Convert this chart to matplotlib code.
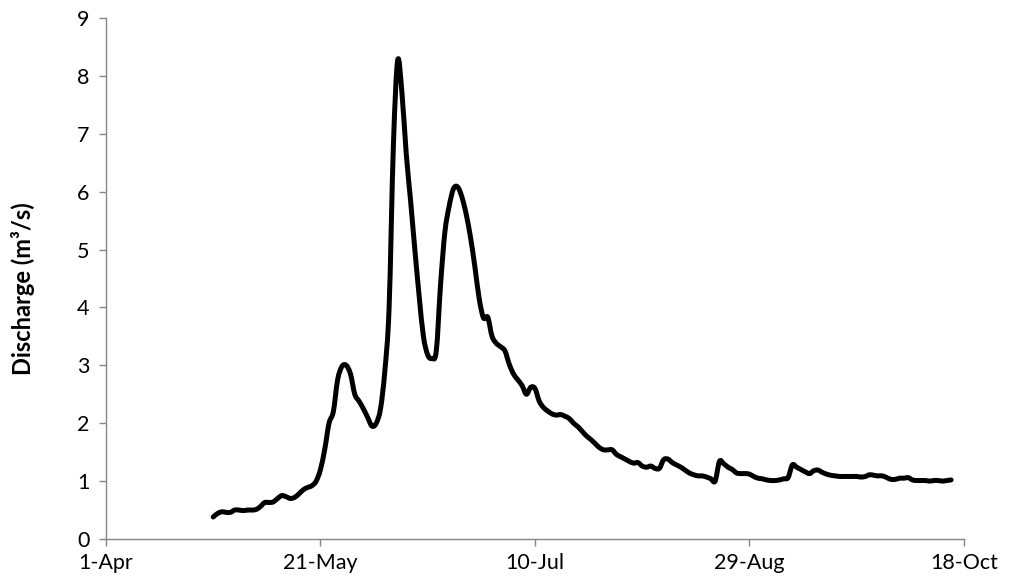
import datetime as dt
import numpy as np
import matplotlib
matplotlib.use("Agg")
import matplotlib.pyplot as plt
import matplotlib.dates as mdates
from matplotlib.path import Path
from matplotlib.patches import PathPatch
from matplotlib.ticker import FuncFormatter

# daily discharge, first value on 26-Apr
start_date = dt.date(2013, 4, 26)
discharge = [
    0.38, 0.44, 0.47, 0.46, 0.46, 0.50, 0.50, 0.49, 0.50, 0.50,
    0.51, 0.56, 0.63, 0.63, 0.64, 0.70, 0.75, 0.73, 0.70, 0.72,
    0.78, 0.85, 0.89, 0.92, 1.00, 1.20, 1.55, 2.00, 2.20, 2.75,
    2.98, 3.00, 2.85, 2.50, 2.38, 2.25, 2.10, 1.95, 2.00, 2.25,
    2.90, 4.00, 6.80, 8.27, 7.70, 6.65, 5.85, 5.00, 4.20, 3.50,
    3.18, 3.12, 3.25, 4.40, 5.30, 5.75, 6.05, 6.08, 5.90, 5.60,
    5.20, 4.70, 4.15, 3.82, 3.83, 3.50, 3.38, 3.32, 3.25, 3.02,
    2.85, 2.75, 2.65, 2.50, 2.62, 2.60, 2.38, 2.27, 2.21, 2.16,
    2.14, 2.15, 2.12, 2.08, 2.00, 1.94, 1.86, 1.78, 1.72, 1.65,
    1.58, 1.54, 1.54, 1.54, 1.46, 1.42, 1.38, 1.34, 1.31, 1.32,
    1.26, 1.24, 1.26, 1.22, 1.22, 1.37, 1.38, 1.32, 1.28, 1.24,
    1.19, 1.14, 1.11, 1.09, 1.09, 1.07, 1.04, 1.00, 1.34, 1.30,
    1.24, 1.20, 1.14, 1.13, 1.13, 1.12, 1.08, 1.05, 1.04, 1.02,
    1.01, 1.01, 1.02, 1.04, 1.06, 1.28, 1.24, 1.20, 1.16, 1.13,
    1.18, 1.19, 1.15, 1.12, 1.10, 1.09, 1.08, 1.08, 1.08, 1.08,
    1.08, 1.07, 1.08, 1.11, 1.10, 1.09, 1.09, 1.06, 1.03, 1.03,
    1.05, 1.05, 1.06, 1.02, 1.01, 1.01, 1.01, 1.00, 1.01, 1.01,
    1.00, 1.01, 1.02,
]
dates = [start_date + dt.timedelta(days=i) for i in range(len(discharge))]

axis_start = dt.date(2013, 4, 1)
tick_dates = [axis_start + dt.timedelta(days=50 * k) for k in range(5)]
y_ticks = list(range(0, 10))


def smooth_path(x, y):
    # excel-like smoothed line: catmull-rom segments as cubic beziers
    p = np.column_stack([x, y])
    p = np.vstack([p[0], p, p[-1]])
    verts = [p[1]]
    codes = [Path.MOVETO]
    for i in range(1, len(p) - 2):
        c1 = p[i] + (p[i + 1] - p[i - 1]) / 6
        c2 = p[i + 1] - (p[i + 2] - p[i]) / 6
        verts += [c1, c2, p[i + 1]]
        codes += [Path.CURVE4] * 3
    return Path(verts, codes)


plt.rcParams['font.family'] = ['Lato', 'DejaVu Sans']

fig = plt.figure(figsize=(10.13, 5.87), dpi=100)
ax = fig.add_axes([0.1046, 0.0818, 0.847, 0.8875])

xnum = mdates.date2num(dates)
ax.add_patch(PathPatch(smooth_path(xnum, discharge), facecolor='none',
                       edgecolor='black', lw=3.6, joinstyle='round',
                       capstyle='round'))

ax.set_xlim(mdates.date2num(tick_dates[0]), mdates.date2num(tick_dates[-1]))
ax.set_ylim(0, 9)
ax.set_xticks(mdates.date2num(tick_dates))
ax.set_yticks(y_ticks)
ax.xaxis.set_major_formatter(
    FuncFormatter(lambda v, p: f"{mdates.num2date(v).day}-{mdates.num2date(v):%b}"))

for s in ['top', 'right']:
    ax.spines[s].set_visible(False)
for s in ['left', 'bottom']:
    ax.spines[s].set_color('#868686')
    ax.spines[s].set_linewidth(1.0)
ax.tick_params(axis='both', color='#868686', length=5, width=1.0,
               labelsize=15.5, labelcolor='black')
ax.tick_params(axis='y', pad=7)
ax.tick_params(axis='x', pad=5)

ax.set_ylabel('Discharge (m³/s)', fontsize=17, fontweight='bold')
ax.yaxis.set_label_coords(-0.083, 0.48)

fig.savefig('out.png', dpi=100)
